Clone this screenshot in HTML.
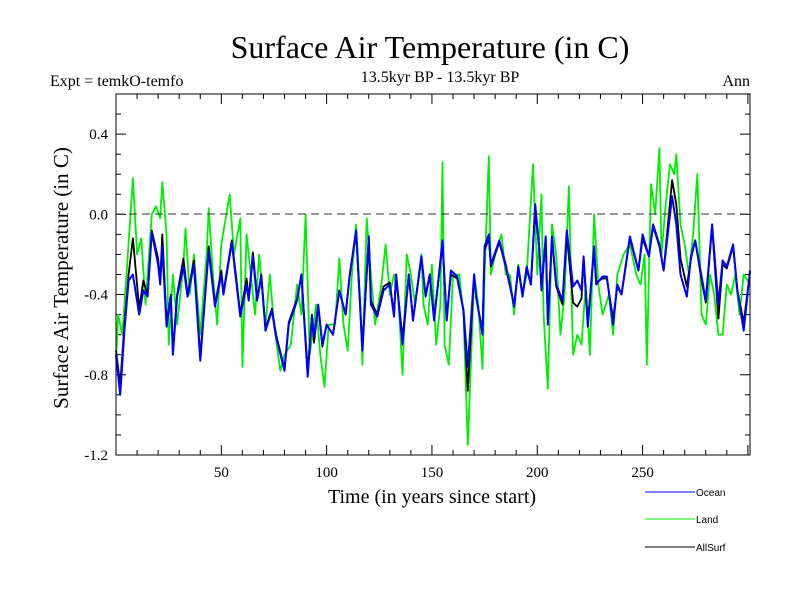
<!DOCTYPE html>
<html><head><meta charset="utf-8"><style>
body{margin:0;background:#fff}
svg{display:block}
text{font-family:"Liberation Serif",serif;fill:#000}
</style></head><body>
<svg id="c" width="800" height="600">
<text x="430" y="58" font-size="32" text-anchor="middle">Surface Air Temperature (in C)</text>
<text x="50" y="86" font-size="16">Expt = temkO-temfo</text>
<text x="440" y="82" font-size="16" text-anchor="middle">13.5kyr BP - 13.5kyr BP</text>
<text x="750" y="86" font-size="16" text-anchor="end">Ann</text>
<text transform="translate(68,278) rotate(-90)" font-size="21" text-anchor="middle">Surface Air Temperature (in C)</text>
<text x="432" y="503" font-size="20" text-anchor="middle">Time (in years since start)</text>
<g id="ticks"></g>
<g id="series"></g>
<rect x="116" y="94" width="634" height="361" fill="none" stroke="#000" stroke-width="1"/>
<line x1="116" x2="750" y1="214" y2="214" stroke="#333" stroke-dasharray="8,5"/>
<g>
<line x1="645" x2="695" y1="492" y2="492" stroke="#0000ff"/>
<text x="696" y="496" font-size="10" style="font-family:'Liberation Sans',sans-serif">Ocean</text>
<line x1="645" x2="695" y1="519" y2="519" stroke="#00ee00"/>
<text x="696" y="523" font-size="10" style="font-family:'Liberation Sans',sans-serif">Land</text>
<line x1="645" x2="695" y1="547" y2="547" stroke="#000"/>
<text x="696" y="551" font-size="10" style="font-family:'Liberation Sans',sans-serif">AllSurf</text>
</g>
</svg>
<script>
const xTicks=[50,100,150,200,250];
const yTicks=[0.4,0.0,-0.4,-0.8,-1.2];
const yTickLabels=["0.4","0.0","-0.4","-0.8","-1.2"];
const oceanYears=[0,2,4,6,8,11,13,15,17,20,21,22,24,26,27,29,32,34,37,40,42,44,47,50,51,55,57,59,62,63,65,67,69,71,74,76,80,82,86,88,91,93,94,96,98,100,103,106,109,111,114,117,120,121,124,127,130,132,133,136,139,141,145,147,149,151,155,157,159,162,165,167,170,171,174,175,177,178,182,185,187,189,191,193,195,197,199,201,202,204,205,207,209,212,214,217,219,221,222,224,227,228,231,233,236,238,240,244,248,250,253,255,258,260,264,266,268,271,273,275,278,280,283,286,288,290,293,295,298,301];
const oceanValues=[-0.70,-0.90,-0.58,-0.33,-0.30,-0.50,-0.38,-0.41,-0.09,-0.25,-0.35,-0.16,-0.56,-0.41,-0.70,-0.41,-0.26,-0.41,-0.25,-0.73,-0.45,-0.18,-0.46,-0.30,-0.40,-0.14,-0.33,-0.51,-0.35,-0.43,-0.21,-0.43,-0.31,-0.58,-0.48,-0.61,-0.78,-0.55,-0.43,-0.30,-0.81,-0.51,-0.61,-0.45,-0.65,-0.55,-0.60,-0.38,-0.50,-0.30,-0.08,-0.68,-0.11,-0.45,-0.51,-0.38,-0.35,-0.51,-0.30,-0.65,-0.30,-0.53,-0.21,-0.41,-0.30,-0.53,-0.13,-0.53,-0.28,-0.31,-0.48,-0.76,-0.30,-0.41,-0.60,-0.16,-0.10,-0.25,-0.13,-0.25,-0.35,-0.46,-0.26,-0.41,-0.26,-0.35,0.05,-0.18,-0.38,-0.11,-0.55,-0.11,-0.35,-0.43,-0.08,-0.36,-0.33,-0.38,-0.21,-0.56,-0.16,-0.35,-0.31,-0.31,-0.55,-0.35,-0.40,-0.11,-0.28,-0.10,-0.21,-0.05,-0.15,-0.28,0.09,-0.05,-0.30,-0.41,-0.21,-0.13,-0.31,-0.43,-0.05,-0.45,-0.23,-0.26,-0.15,-0.38,-0.58,-0.28];
const allYears=[0,2,4,6,8,11,13,15,17,20,21,22,24,26,27,29,32,34,37,40,42,44,47,50,51,55,57,59,62,63,65,67,69,71,74,76,80,82,86,88,91,93,94,96,98,100,103,106,109,111,114,117,120,121,124,127,130,132,133,136,139,141,145,147,149,151,155,157,159,162,165,167,170,171,174,175,177,178,182,185,187,189,191,193,195,197,199,201,202,204,205,207,209,212,214,217,219,221,222,224,227,228,231,233,236,238,240,244,248,250,253,255,258,260,264,266,268,271,273,275,278,280,283,286,288,290,293,295,298,301];
const allValues=[-0.68,-0.85,-0.55,-0.30,-0.12,-0.47,-0.33,-0.40,-0.08,-0.22,-0.33,-0.10,-0.54,-0.40,-0.68,-0.40,-0.22,-0.40,-0.23,-0.71,-0.44,-0.16,-0.45,-0.28,-0.39,-0.13,-0.31,-0.50,-0.32,-0.42,-0.19,-0.42,-0.30,-0.57,-0.47,-0.60,-0.77,-0.54,-0.42,-0.30,-0.78,-0.50,-0.64,-0.46,-0.66,-0.55,-0.60,-0.38,-0.50,-0.30,-0.09,-0.66,-0.12,-0.43,-0.50,-0.36,-0.34,-0.50,-0.30,-0.62,-0.30,-0.52,-0.22,-0.40,-0.30,-0.52,-0.15,-0.52,-0.30,-0.32,-0.48,-0.88,-0.30,-0.42,-0.58,-0.18,-0.12,-0.26,-0.14,-0.26,-0.36,-0.45,-0.27,-0.40,-0.27,-0.35,0.02,-0.18,-0.37,-0.12,-0.52,-0.12,-0.36,-0.45,-0.10,-0.44,-0.46,-0.42,-0.22,-0.54,-0.18,-0.34,-0.32,-0.32,-0.52,-0.36,-0.40,-0.12,-0.28,-0.12,-0.21,-0.06,-0.16,-0.28,0.17,0.05,-0.22,-0.36,-0.22,-0.13,-0.33,-0.44,-0.06,-0.52,-0.25,-0.27,-0.16,-0.38,-0.54,-0.29];
const landYears=[0,1,3,5,8,10,12,14,17,19,21,22,24,25,27,29,32,33,35,37,40,43,44,46,48,50,54,56,59,60,62,64,66,68,71,73,75,78,80,83,86,88,90,92,95,97,99,101,104,106,108,110,112,114,116,117,119,121,123,126,128,130,132,134,136,138,140,142,145,146,148,150,152,154,155,156,158,160,163,165,167,169,170,172,174,175,177,178,180,183,185,187,189,191,193,195,198,200,202,203,205,207,209,211,213,215,216,217,219,221,223,225,227,229,231,234,236,238,241,244,247,249,251,252,254,256,258,259,261,263,265,266,268,270,272,274,276,278,280,282,284,286,288,290,292,294,296,298,301];
const landValues=[-0.73,-0.50,-0.60,-0.30,0.18,-0.20,-0.12,-0.45,0.00,0.04,-0.02,0.16,-0.10,-0.65,-0.30,-0.55,-0.25,-0.07,-0.40,-0.20,-0.60,-0.20,0.03,-0.30,-0.55,-0.15,0.10,-0.20,-0.02,-0.76,-0.10,-0.30,-0.50,-0.20,-0.56,-0.30,-0.55,-0.78,-0.70,-0.65,-0.35,-0.50,0.00,-0.70,-0.45,-0.70,-0.86,-0.55,-0.55,-0.22,-0.55,-0.68,-0.30,-0.05,-0.45,-0.75,-0.02,-0.30,-0.55,-0.35,-0.15,-0.40,-0.30,-0.40,-0.80,-0.20,-0.30,-0.45,-0.20,-0.45,-0.55,-0.25,-0.65,-0.45,0.26,-0.65,-0.75,-0.30,-0.30,-0.50,-1.15,-0.60,-0.30,-0.45,-0.77,-0.30,0.29,-0.30,-0.20,-0.10,-0.30,-0.30,-0.50,-0.25,-0.40,-0.30,0.25,-0.30,0.10,-0.50,-0.87,-0.05,-0.20,-0.60,-0.40,0.14,-0.30,-0.70,-0.60,-0.65,-0.35,-0.70,0.00,-0.35,-0.50,-0.40,-0.60,-0.30,-0.20,-0.15,-0.30,-0.35,-0.20,-0.75,0.15,0.00,0.33,-0.20,0.05,0.25,0.20,0.30,-0.05,-0.15,-0.30,-0.10,0.20,-0.50,-0.55,-0.30,-0.40,-0.60,-0.60,-0.35,-0.40,-0.30,-0.50,-0.30,-0.35];
const X0=116,X1=750,Y0=94,Y1=455,XMIN=0,XMAX=301,YMIN=-1.2,YMAX=0.6;
const sx=v=>X0+(v-XMIN)/(XMAX-XMIN)*(X1-X0);
const sy=v=>Y1-(v-YMIN)/(YMAX-YMIN)*(Y1-Y0);
const NS="http://www.w3.org/2000/svg";
const tg=document.getElementById('ticks'),sg=document.getElementById('series');
function mk(tag,attrs,parent){const e=document.createElementNS(NS,tag);for(const k in attrs)e.setAttribute(k,attrs[k]);parent.appendChild(e);return e;}
for(let yr=10;yr<XMAX;yr+=10){const L=yr%50===0?10:5;const x=sx(yr);
 const t1=mk('line',{x1:x,x2:x,y1:Y1,y2:Y1-L,stroke:'#000'},tg);
 
 
 const t2=mk('line',{x1:x,x2:x,y1:Y0,y2:Y0+L,stroke:'#000'},tg);
 
 }
xTicks.forEach(v=>{const t=mk('text',{x:sx(v),y:Y1+22,'font-size':15,'text-anchor':'middle'},tg);t.textContent=v;
 
 });
for(let i=-11;i<=5;i++){const v=i/10;const L=(i%4===0)?10:5;const y=sy(v);
 const a=mk('line',{x1:X0,x2:X0+L,y1:y,y2:y,stroke:'#000'},tg);
 
 
 const b=mk('line',{x1:X1,x2:X1-L,y1:y,y2:y,stroke:'#000'},tg);
 
 }
yTicks.forEach((v,i)=>{const t=mk('text',{x:X0-8,y:sy(v)+5,'font-size':15,'text-anchor':'end'},tg);t.textContent=yTickLabels[i];
 
 });
function line(xs,ys,color,w,name){const d=xs.map((x,i)=>(i?'L':'M')+sx(x).toFixed(1)+','+sy(ys[i]).toFixed(1)).join('');
 const p=mk('path',{d:d,fill:'none',stroke:color,'stroke-width':w,'stroke-linejoin':'round'},sg);
 
 }
line(landYears,landValues,'#00ee00',1.8,'land-series');
line(allYears,allValues,'#000000',1.8,'allsurf-series');
line(oceanYears,oceanValues,'#0000ff',2,'ocean-series');
</script>
</body></html>
